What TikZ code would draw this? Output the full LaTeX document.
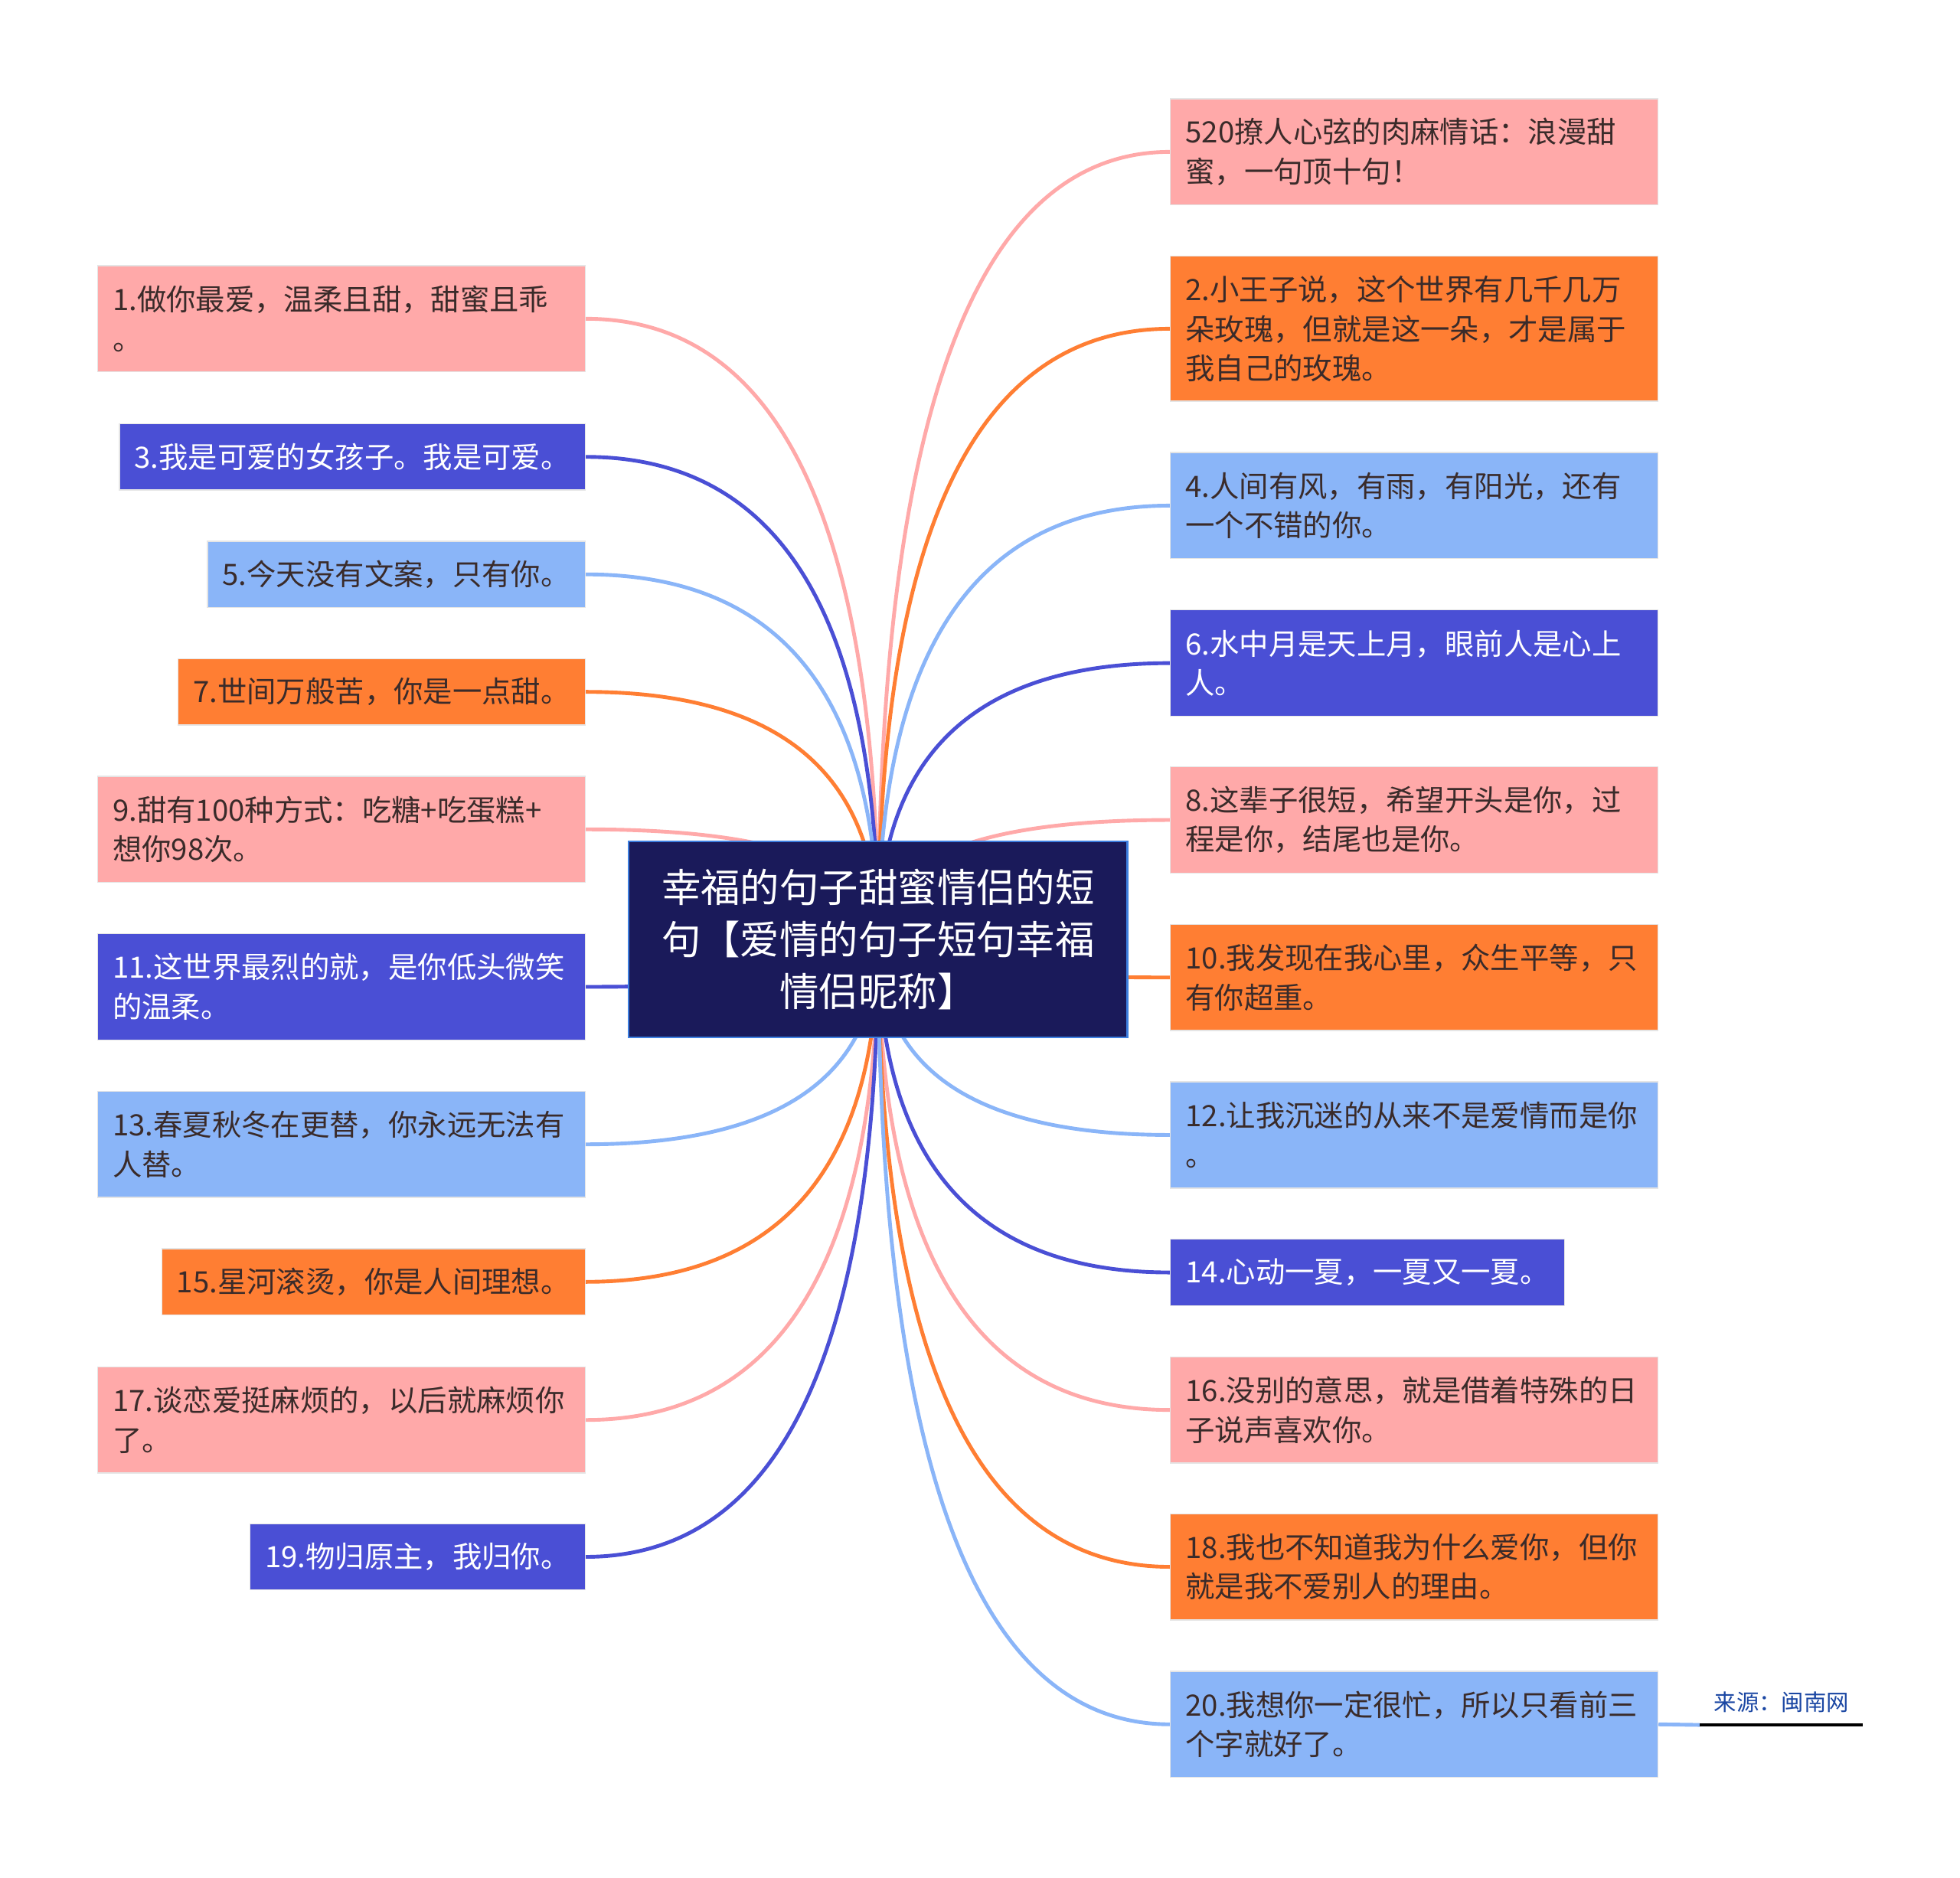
\documentclass[tikz,border=0pt]{standalone}
\usepackage{fontspec}
\setmainfont{Noto Sans CJK SC}
\usetikzlibrary{positioning,calc,backgrounds}
\definecolor{lovepink}{HTML}{FFA9A9}
\definecolor{loveorange}{HTML}{FF7E33}
\definecolor{loveindigo}{HTML}{4A4FD5}
\definecolor{lovesky}{HTML}{8AB5F8}
\definecolor{rootnavy}{HTML}{1A1A5A}
\definecolor{rootedge}{HTML}{3D7FE0}
\definecolor{inkdark}{HTML}{3A2B2A}
\definecolor{sourceblue}{HTML}{1B47A3}
\tikzset{
  box/.style={rectangle,draw=white!90!black,line width=0.8pt,align=left,inner xsep=12pt,inner ysep=0pt,minimum height=53pt,text=inkdark,font=\fontsize{23.5}{31.5}\selectfont},
  twolines/.style={minimum height=85pt,text width=366pt},
  threelines/.style={minimum height=116pt,text width=366pt},
  pinkbox/.style={box,fill=lovepink},
  orangebox/.style={box,fill=loveorange},
  indigobox/.style={box,fill=loveindigo,text=white},
  skybox/.style={box,fill=lovesky},
  rootbox/.style={rectangle,draw=rootedge,line width=1.5pt,fill=rootnavy,text=white,align=center,inner sep=0pt,text width=360pt,minimum width=399pt,minimum height=157pt,font=\fontsize{31.5}{41.5}\selectfont},
  sourcenote/.style={inner xsep=0pt,inner ysep=10pt,minimum width=130pt,text=sourceblue,font=\fontsize{18}{22}\selectfont},
  link/.style={line width=3pt}
}
\begin{document}
\begin{tikzpicture}[x=1pt,y=-1pt]
  \useasboundingbox (0,0) rectangle (1568,1502);
  % centre
  \node[rootbox] (root) at (702.5,751.5) {幸福的句子甜蜜情侣的短\\句【爱情的句子短句幸福\\情侣昵称】};
  % left side
  \node[pinkbox,twolines,anchor=east] (b1) at (468.5,255) {1.做你最爱，温柔且甜，甜蜜且乖\\。};
  \node[indigobox,anchor=east] (b3) at (468.5,365.5) {3.我是可爱的女孩子。我是可爱。};
  \node[skybox,anchor=east] (b5) at (468.5,459.5) {5.今天没有文案，只有你。};
  \node[orangebox,anchor=east] (b7) at (468.5,553.5) {7.世间万般苦，你是一点甜。};
  \node[pinkbox,twolines,anchor=east] (b9) at (468.5,663.5) {9.甜有100种方式：吃糖+吃蛋糕+\\想你98次。};
  \node[indigobox,twolines,anchor=east] (b11) at (468.5,789.5) {11.这世界最烈的就，是你低头微笑\\的温柔。};
  \node[skybox,twolines,anchor=east] (b13) at (468.5,915.5) {13.春夏秋冬在更替，你永远无法有\\人替。};
  \node[orangebox,anchor=east] (b15) at (468.5,1025.5) {15.星河滚烫，你是人间理想。};
  \node[pinkbox,twolines,anchor=east] (b17) at (468.5,1136) {17.谈恋爱挺麻烦的，以后就麻烦你\\了。};
  \node[indigobox,anchor=east] (b19) at (468.5,1245.5) {19.物归原主，我归你。};
  % right side
  \node[pinkbox,twolines,anchor=west] (b520) at (936,121.5) {520撩人心弦的肉麻情话：浪漫甜\\蜜，一句顶十句！};
  \node[orangebox,threelines,anchor=west] (b2) at (936,263) {2.小王子说，这个世界有几千几万\\朵玫瑰，但就是这一朵，才是属于\\我自己的玫瑰。};
  \node[skybox,twolines,anchor=west] (b4) at (936,404.5) {4.人间有风，有雨，有阳光，还有\\一个不错的你。};
  \node[indigobox,twolines,anchor=west] (b6) at (936,530.5) {6.水中月是天上月，眼前人是心上\\人。};
  \node[pinkbox,twolines,anchor=west] (b8) at (936,656) {8.这辈子很短，希望开头是你，过\\程是你，结尾也是你。};
  \node[orangebox,twolines,anchor=west] (b10) at (936,782) {10.我发现在我心里，众生平等，只\\有你超重。};
  \node[skybox,twolines,anchor=west] (b12) at (936,908) {12.让我沉迷的从来不是爱情而是你\\。};
  \node[indigobox,anchor=west] (b14) at (936,1018) {14.心动一夏，一夏又一夏。};
  \node[pinkbox,twolines,anchor=west] (b16) at (936,1128) {16.没别的意思，就是借着特殊的日\\子说声喜欢你。};
  \node[orangebox,twolines,anchor=west] (b18) at (936,1253.5) {18.我也不知道我为什么爱你，但你\\就是我不爱别人的理由。};
  \node[skybox,twolines,anchor=west] (b20) at (936,1379.5) {20.我想你一定很忙，所以只看前三\\个字就好了。};
  % source
  \node[sourcenote,anchor=south west] (src) at (1360,1380) {来源：闽南网};
  \draw[line width=2pt,black] (src.south west) -- (src.south east);
  \begin{scope}[on background layer]
    \foreach \b/\c in {b1/lovepink,b3/loveindigo,b5/lovesky,b7/loveorange,b9/lovepink,b11/loveindigo,b13/lovesky,b15/loveorange,b17/lovepink,b19/loveindigo}
      \draw[link,draw=\c] (root.center) .. controls ($(root.center)!0.667!(root.center |- \b.east)$) and ($(\b.east)!0.667!(root.center |- \b.east)$) .. (\b.east);
    \foreach \b/\c in {b520/lovepink,b2/loveorange,b4/lovesky,b6/loveindigo,b8/lovepink,b10/loveorange,b12/lovesky,b14/loveindigo,b16/lovepink,b18/loveorange,b20/lovesky}
      \draw[link,draw=\c] (root.center) .. controls ($(root.center)!0.667!(root.center |- \b.west)$) and ($(\b.west)!0.667!(root.center |- \b.west)$) .. (\b.west);
    \draw[link,draw=lovesky] (b20.east) -- (src.south west);
  \end{scope}
\end{tikzpicture}
\end{document}
